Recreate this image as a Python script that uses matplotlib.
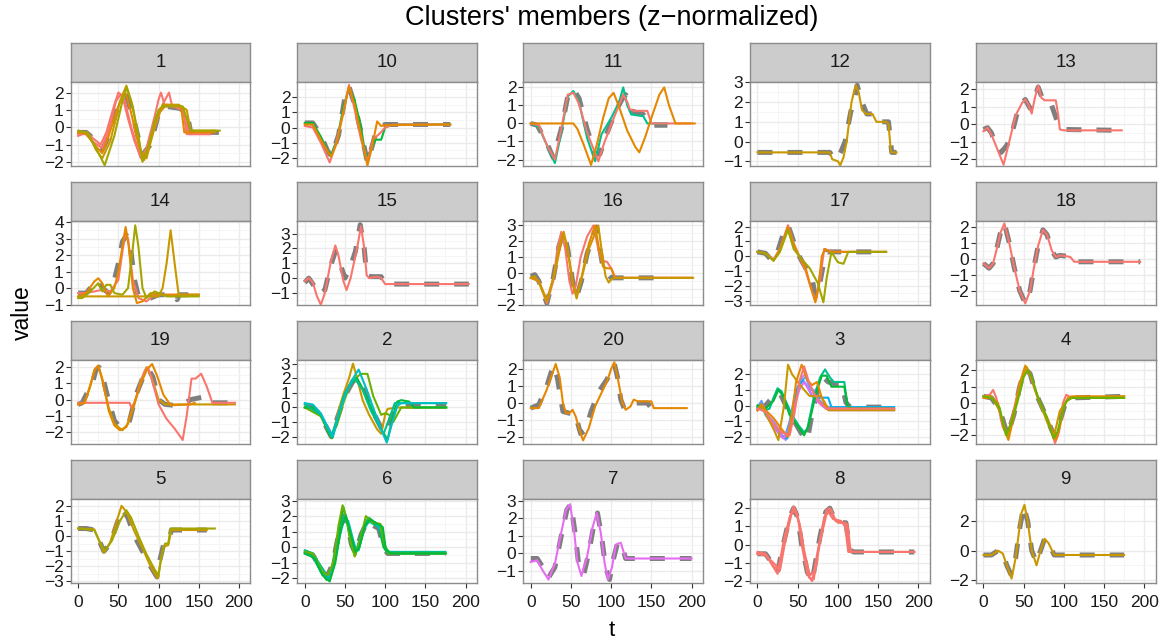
import matplotlib
matplotlib.use("Agg")
import matplotlib.pyplot as plt
from matplotlib.ticker import MultipleLocator

plt.rcParams["font.family"] = ["Liberation Sans", "DejaVu Sans"]

# facet order as ggplot sorts the cluster ids (as strings)
panel_names = ["1", "10", "11", "12", "13", "14", "15", "16", "17", "18",
               "19", "2", "20", "3", "4", "5", "6", "7", "8", "9"]

# --- cluster 1 ---
p1_center = [(0, -0.3), (10, -0.3), (20, -0.7), (30, -1.3), (40, -0.3), (50, 1.3), (60, 1.8), (70, 0.3),
             (80, -1.6), (90, -1.0), (100, 0.8), (110, 1.2), (125, 1.1), (135, 0.9), (140, -0.3), (175, -0.3)]
p1_members = [
    [(0, -0.5), (10, -0.3), (20, -0.7), (28, -1.0), (35, -0.3), (45, 1.3), (50, 2.0), (55, 1.8), (62, 0.5),
     (70, -0.8), (78, -1.8), (85, -1.2), (95, 0.6), (100, 1.6), (103, 2.0), (108, 1.2), (118, 1.2), (130, 1.1),
     (135, -0.4), (164, -0.4)],
    [(0, -0.4), (10, -0.4), (20, -0.9), (30, -1.2), (38, -0.2), (47, 1.5), (53, 1.9), (58, 1.5), (66, 0.0),
     (74, -1.2), (80, -1.9), (88, -1.0), (98, 0.4), (106, 1.4), (113, 2.0), (117, 1.2), (130, 1.0), (138, -0.4),
     (164, -0.4)],
    [(0, -0.3), (10, -0.4), (20, -1.0), (30, -1.5), (38, -0.5), (48, 1.0), (58, 2.1), (65, 1.0), (75, -1.0),
     (82, -1.9), (90, -0.8), (100, 0.8), (110, 1.3), (128, 1.2), (132, -0.3), (170, -0.3)],
    [(0, -0.3), (12, -0.3), (22, -1.3), (30, -1.8), (40, -0.8), (52, 1.5), (60, 2.4), (68, 1.2), (78, -1.4),
     (85, -1.8), (95, 0.0), (105, 1.3), (125, 1.3), (135, 1.0), (140, -0.2), (170, -0.2)],
    [(0, -0.2), (10, -0.3), (20, -1.0), (33, -2.2), (45, -0.5), (55, 1.5), (60, 2.3), (66, 1.5), (75, -0.5),
     (80, -2.0), (88, -1.0), (95, 0.3), (100, 1.0), (105, 1.2), (130, 1.2), (140, -0.2), (176, -0.2)],
]

# --- cluster 10 ---
p10_center = [(0, 0.3), (10, 0.3), (20, -0.5), (28, -1.5), (33, -1.9), (42, -0.5), (50, 2.0), (55, 2.7),
              (62, 1.5), (70, -0.3), (78, -2.3), (85, -1.0), (90, 0.0), (100, 0.2), (181, 0.2)]
p10_members = [
    [(0, 0.3), (10, 0.3), (20, -0.6), (32, -1.9), (40, -0.8), (48, 1.3), (55, 2.6), (62, 1.8), (70, 0.0),
     (76, -2.0), (82, -1.5), (88, -0.8), (95, -0.8), (100, 0.0), (110, 0.2), (181, 0.2)],
    [(0, 0.1), (10, 0.0), (20, -1.0), (31, -2.3), (38, -1.2), (48, 1.0), (55, 2.8), (62, 1.2), (70, -0.8),
     (78, -2.2), (85, -0.8), (95, -0.3), (100, 0.0), (110, 0.2), (180, 0.2)],
    [(0, 0.2), (10, 0.2), (20, -0.8), (30, -1.7), (33, -1.9), (40, -1.0), (48, 1.0), (55, 2.7), (62, 1.5),
     (70, -0.5), (78, -2.5), (84, -1.2), (90, 0.4), (95, 0.1), (100, 0.15), (181, 0.2)],
]

# --- cluster 11 ---
p11_center = [(0, 0.0), (8, -0.1), (18, -0.9), (28, -1.9), (38, -0.3), (46, 1.5), (53, 1.9), (60, 1.4),
              (70, -0.3), (80, -1.7), (86, -1.7), (95, -0.5), (105, 0.6), (113, 1.3), (118, 1.6), (125, 0.7),
              (140, 0.5), (150, -0.1), (170, -0.1)]
p11_members = [
    [(0, 0.0), (10, -0.2), (20, -1.2), (30, -2.2), (38, -0.5), (46, 1.5), (53, 1.8), (60, 1.2), (70, -0.8),
     (80, -2.1), (88, -0.6), (100, 0.3), (110, 1.2), (115, 2.0), (120, 1.0), (125, 0.5), (140, 0.4),
     (145, 0.0), (170, 0.0)],
    [(0, 0.0), (10, -0.1), (20, -1.2), (30, -2.0), (38, -0.3), (46, 1.6), (53, 1.7), (60, 1.1), (70, -0.5),
     (84, -2.1), (92, -1.0), (105, 0.5), (115, 1.6), (120, 1.2), (123, 0.8), (128, 0.7), (145, 0.7),
     (150, 0.0), (200, 0.0)],
    [(0, 0.0), (53, 0.0), (58, -0.3), (66, -1.2), (75, -2.3), (82, -1.2), (90, 0.3), (97, 1.4), (103, 1.7),
     (110, 0.9), (120, -0.4), (130, -1.3), (135, -1.6), (142, -0.8), (150, 0.3), (160, 1.6), (166, 2.0),
     (172, 1.0), (180, 0.0), (204, 0.0)],
]

# --- cluster 12 ---
p12_center = [(0, -0.55), (90, -0.55), (95, -0.85), (99, -0.9), (104, -0.5), (109, 0.0), (116, 1.5),
              (120, 2.0), (124, 2.85), (130, 2.0), (136, 1.4), (144, 1.4), (150, 1.0), (163, 1.0),
              (167, -0.55), (173, -0.55)]
p12_members = [
    [(0, -0.55), (90, -0.55), (93, -0.9), (100, -1.0), (103, -1.2), (107, -0.8), (111, 0.0), (117, 2.0),
     (122, 2.85), (126, 2.5), (130, 1.6), (135, 1.4), (143, 1.4), (148, 1.0), (160, 1.0), (163, 0.9),
     (166, -0.55), (173, -0.55)],
]

# --- cluster 13 ---
p13_center = [(0, -0.3), (5, -0.2), (10, -0.5), (15, -1.2), (22, -1.6), (29, -1.2), (35, -0.6), (44, 1.0),
              (52, 1.4), (58, 0.9), (62, 1.2), (68, 2.1), (73, 1.5), (83, 1.3), (93, 0.0), (100, -0.3),
              (172, -0.35)]
p13_members = [
    [(0, -0.4), (5, -0.2), (10, -0.6), (18, -1.5), (25, -2.3), (32, -1.0), (40, 0.5), (48, 1.2), (52, 1.4),
     (56, 1.1), (60, 0.6), (64, 1.5), (68, 2.2), (72, 1.5), (76, 1.35), (90, 1.35), (93, 0.5), (95, -0.3),
     (100, -0.35), (172, -0.35)],
]

# --- cluster 14 ---
p14_center = [(0, -0.3), (10, -0.3), (20, 0.3), (25, 0.5), (30, 0.0), (38, -0.3), (45, 0.5), (50, 1.5),
              (55, 2.8), (60, 3.2), (65, 2.5), (70, 0.5), (75, -0.5), (80, -0.7), (90, -0.6), (100, -0.4),
              (120, -0.4), (123, -0.7), (126, -0.4), (150, -0.4)]
p14_members = [
    [(0, -0.3), (10, -0.3), (20, -0.2), (30, -0.1), (40, -0.2), (50, 0.5), (58, 3.2), (62, 3.0), (68, 0.5),
     (75, -0.6), (85, -0.8), (95, -0.4), (150, -0.4)],
    [(0, -0.5), (10, -0.3), (20, 0.4), (25, 0.6), (30, 0.3), (37, -0.5), (45, 0.0), (50, 1.0), (55, 2.5),
     (59, 3.7), (63, 2.5), (68, 0.0), (73, -0.9), (80, -0.8), (90, -0.3), (100, -0.4), (150, -0.4)],
    [(0, -0.5), (100, -0.5), (105, 0.0), (110, 1.5), (115, 3.5), (120, 1.5), (125, -0.4), (150, -0.4)],
    [(0, -0.6), (5, -0.6), (15, -0.2), (25, 0.3), (30, -0.2), (35, 0.2), (40, 0.2), (45, -0.3), (55, -0.4),
     (62, 0.0), (67, 2.0), (71, 3.8), (75, 2.5), (80, 0.0), (85, -0.6), (95, -0.2), (100, -0.3),
     (110, -0.5), (150, -0.5)],
]

# --- cluster 15 ---
p15_center = [(0, -0.3), (5, 0.0), (10, -0.4), (18, -1.1), (25, -0.8), (32, 0.8), (38, 1.8), (45, 0.8),
              (50, 0.0), (57, 0.8), (63, 1.8), (69, 3.6), (74, 2.0), (77, 0.2), (82, 0.1), (95, 0.1),
              (100, -0.4), (204, -0.4)]
p15_members = [
    [(0, -0.2), (5, 0.0), (10, -0.3), (15, -1.2), (20, -1.8), (25, -1.0), (32, 1.0), (38, 2.2), (42, 1.5),
     (48, -0.2), (52, -0.8), (57, 0.0), (65, 2.0), (70, 3.5), (74, 2.0), (77, 0.2), (80, 0.0), (90, 0.1),
     (95, 0.0), (100, -0.4), (204, -0.4)],
]

# --- cluster 16 ---
p16_center = [(0, -0.2), (5, -0.1), (10, -0.5), (20, -1.9), (28, -0.3), (35, 1.7), (41, 2.6), (46, 1.5),
              (52, -0.5), (57, -1.5), (63, -0.5), (70, 1.2), (77, 2.3), (82, 2.9), (86, 1.5), (90, 0.3),
              (95, 0.0), (100, -0.3), (170, -0.3)]
p16_members = [
    [(0, -0.3), (10, -0.5), (20, -1.9), (28, -0.5), (33, 1.5), (38, 2.6), (43, 1.5), (48, -0.5), (52, -1.3),
     (56, -0.8), (62, 1.0), (70, 2.3), (78, 3.0), (84, 1.5), (88, 0.8), (95, 0.7), (100, 0.3), (105, -0.3),
     (200, -0.3)],
    [(0, -0.3), (10, -0.5), (20, -1.7), (30, 0.0), (40, 2.5), (45, 1.8), (53, -0.8), (57, -1.4), (63, -0.3),
     (72, 1.8), (80, 3.0), (85, 1.5), (90, 0.4), (95, 0.3), (100, 0.3), (105, -0.3), (200, -0.3)],
    [(0, -0.3), (5, -0.2), (10, -0.6), (20, -1.8), (28, -0.3), (36, 1.8), (41, 2.6), (46, 1.4), (52, -0.6),
     (57, -1.6), (63, -0.4), (72, 1.5), (84, 3.0), (88, 1.5), (93, -0.2), (97, -0.6), (100, -0.4),
     (105, -0.3), (202, -0.3)],
]

# --- cluster 17 ---
p17_center = [(0, 0.3), (10, 0.2), (18, -0.3), (25, 0.3), (32, 1.5), (38, 2.1), (45, 1.0), (52, 0.0),
              (60, -0.8), (68, -1.5), (72, -2.7), (77, -2.0), (82, -0.5), (86, 0.3), (95, 0.3), (155, 0.3)]
p17_members = [
    [(0, 0.3), (10, 0.2), (20, -0.2), (28, 0.5), (38, 2.1), (45, 0.9), (52, 0.0), (60, -1.0), (68, -2.4),
     (73, -2.9), (78, -1.5), (83, 0.5), (88, 0.4), (95, 0.3), (160, 0.3)],
    [(0, 0.3), (10, 0.2), (20, -0.3), (28, 0.5), (38, 2.0), (45, 0.8), (52, 0.0), (60, -0.8), (66, -2.0),
     (72, -3.1), (76, -2.0), (80, 0.0), (84, 0.5), (90, 0.3), (160, 0.3)],
    [(0, 0.3), (10, 0.2), (20, -0.3), (28, 0.3), (38, 1.8), (45, 0.5), (55, -0.2), (65, -0.8), (75, -1.8),
     (82, -3.1), (86, -1.5), (92, 0.3), (100, -0.4), (107, -0.5), (113, 0.3), (160, 0.3)],
]

# --- cluster 18 ---
p18_center = [(0, -0.3), (7, -0.6), (12, -0.3), (16, 0.5), (21, 1.6), (26, 2.2), (32, 1.0), (38, -0.5),
              (45, -2.0), (52, -2.8), (58, -2.0), (63, -0.5), (68, 0.8), (74, 1.8), (79, 1.5), (85, 0.5),
              (90, 0.1), (95, 0.2), (103, 0.15), (108, 0.1), (113, -0.2), (195, -0.2)]
p18_members = [
    [(0, -0.3), (7, -0.6), (12, -0.3), (16, 0.5), (21, 1.6), (26, 2.2), (32, 1.0), (38, -0.5), (45, -2.0),
     (52, -2.8), (58, -2.0), (63, -0.5), (68, 0.8), (74, 1.8), (79, 1.5), (85, 0.5), (90, 0.1), (95, 0.2),
     (103, 0.15), (108, 0.1), (113, -0.2), (195, -0.2)],
]

# --- cluster 19 ---
p19_center = [(0, -0.3), (5, -0.2), (10, 0.3), (17, 0.9), (22, 1.8), (26, 2.0), (30, 1.5), (36, 0.3),
              (45, -1.3), (52, -1.7), (58, -1.7), (64, -1.3), (72, 0.3), (80, 1.3), (87, 1.9), (93, 1.4),
              (100, 0.0), (108, -0.3), (118, -0.35), (130, -0.3), (140, 0.0), (150, 0.1), (160, 0.2),
              (165, -0.2), (195, -0.2)]
p19_members = [
    [(0, -0.3), (8, -0.2), (15, 0.8), (20, 1.8), (25, 2.1), (30, 1.2), (38, -0.5), (45, -1.5), (55, -1.9),
     (62, -1.5), (70, -0.3), (78, 1.2), (85, 2.0), (92, 1.3), (100, 0.0), (108, -0.3), (195, -0.3)],
    [(0, -0.2), (64, -0.2), (66, -0.5), (70, -0.2), (76, 0.8), (83, 1.8), (87, 2.0), (93, 1.0), (100, -0.3),
     (110, -1.2), (120, -1.8), (130, -2.5), (135, -1.0), (141, 1.3), (146, 1.3), (153, 1.6), (160, 0.8),
     (167, -0.2), (195, -0.2)],
    [(0, -0.3), (8, -0.2), (15, 0.9), (21, 1.9), (25, 2.1), (30, 1.3), (38, -0.7), (45, -1.6), (52, -1.9),
     (60, -1.7), (68, -0.5), (78, 1.0), (86, 1.9), (92, 2.2), (98, 1.5), (106, 0.3), (115, -0.35),
     (139, -0.3), (145, -0.2)],
]

# --- cluster 2 ---
p2_center = [(0, 0.1), (10, 0.0), (20, -0.6), (33, -2.0), (40, -0.8), (50, 0.8), (60, 1.8), (67, 2.0),
             (75, 1.2), (85, -0.3), (95, -1.4), (101, -1.8), (108, -0.6), (115, 0.1), (125, 0.1), (176, 0.1)]
p2_members = [
    [(0, 0.0), (10, -0.1), (20, -0.6), (28, -1.5), (33, -2.1), (38, -1.2), (43, 0.0), (48, 0.9), (55, 2.0),
     (60, 3.0), (65, 2.0), (72, 0.5), (80, -0.5), (90, -1.5), (95, -1.8), (100, -0.5), (103, -0.1),
     (115, 0.0), (175, 0.0)],
    [(0, 0.0), (20, -0.6), (33, -2.0), (40, -1.2), (48, 0.3), (58, 1.8), (70, 2.3), (78, 2.3), (85, 0.8),
     (95, -0.5), (100, -0.4), (105, -0.5), (110, -1.0), (115, -0.5), (120, 0.0), (176, 0.0)],
    [(0, 0.0), (10, 0.0), (20, -0.5), (30, -1.8), (34, -2.1), (40, -1.0), (47, 0.5), (55, 1.5), (65, 2.0),
     (72, 1.3), (85, -0.3), (95, -1.5), (103, -2.2), (108, -1.0), (115, 0.4), (120, 0.5), (130, 0.4),
     (136, 0.0), (176, 0.0)],
    [(0, 0.2), (20, -0.5), (33, -2.0), (40, -0.8), (50, 1.0), (62, 2.0), (72, 1.2), (82, -0.2), (92, -1.2),
     (98, -1.8), (105, -0.8), (112, 0.3), (120, 0.3), (176, 0.3)],
    [(0, 0.3), (10, 0.2), (20, -0.4), (30, -1.5), (35, -2.0), (42, -0.5), (50, 0.8), (58, 1.8), (67, 2.6),
     (75, 1.5), (85, 0.0), (95, -1.5), (102, -2.4), (108, -1.2), (115, 0.1), (120, 0.3), (175, 0.3)],
]

# --- cluster 20 ---
p20_center = [(0, -0.3), (10, -0.1), (20, 1.0), (28, 2.2), (33, 1.5), (40, -0.5), (48, -0.6), (55, -0.6),
              (62, -1.8), (68, -1.6), (75, -0.5), (85, 0.7), (95, 1.4), (100, 2.0), (104, 2.3), (108, 1.5),
              (112, 0.2), (116, -0.3), (122, -0.3), (128, 0.0), (145, 0.0), (150, -0.3), (165, -0.3)]
p20_members = [
    [(0, -0.3), (10, -0.3), (20, 0.8), (31, 2.3), (36, 1.5), (40, 0.0), (44, -0.6), (48, -0.6), (52, -0.4),
     (56, -0.8), (60, -1.5), (65, -2.2), (72, -1.5), (80, -0.2), (88, 0.6), (95, 1.3), (100, 2.0),
     (104, 2.4), (108, 1.5), (114, 0.0), (118, -0.4), (124, -0.2), (128, 0.2), (133, 0.1), (150, 0.1),
     (153, -0.3), (194, -0.3)],
]

# --- cluster 3 ---
p3_center = [(0, -0.1), (10, 0.0), (20, 0.6), (28, 0.8), (38, -0.3), (48, -1.2), (55, -1.8), (62, -2.2),
             (68, -0.5), (75, 1.0), (82, 1.8), (88, 1.5), (95, 1.4), (105, 1.4), (110, 0.2), (115, -0.1),
             (155, -0.1)]
p3_members = [
    [(0, -0.3), (5, 0.2), (10, -0.5), (20, -1.0), (30, -1.8), (35, -2.2), (40, -1.5), (48, 0.5), (55, 1.8),
     (60, 2.0), (65, 1.0), (70, 1.0), (75, 0.5), (80, 0.0), (85, -0.2), (90, -0.3), (170, -0.3)],
    [(0, -0.1), (5, 0.3), (10, -0.4), (20, -1.2), (28, -1.9), (34, -2.0), (40, -1.0), (47, 0.8), (54, 1.6),
     (60, 1.8), (66, 1.2), (72, 0.6), (80, 0.2), (88, -0.1), (170, -0.2)],
    [(0, -0.2), (5, 0.1), (10, -0.6), (20, -1.3), (30, -2.0), (37, -2.1), (43, -0.8), (50, 1.2), (57, 1.6),
     (62, 1.2), (68, 0.6), (75, 0.5), (88, 0.5), (92, -0.1), (170, -0.1)],
    [(0, -0.3), (6, 0.0), (12, -0.7), (22, -1.5), (32, -2.1), (38, -1.8), (45, -0.2), (52, 1.0), (58, 1.5),
     (64, 1.0), (70, 0.5), (78, 0.1), (86, -0.2), (165, -0.2)],
    [(0, -0.1), (5, 0.0), (10, -0.3), (15, -0.2), (20, 0.5), (25, 1.1), (30, 0.9), (35, 0.3), (42, -0.5),
     (50, -1.2), (58, -1.7), (62, -1.5), (70, 0.5), (78, 1.8), (84, 2.3), (90, 1.8), (95, 1.5), (108, 1.5),
     (112, 0.0), (116, -0.2), (165, -0.2)],
    [(0, 0.0), (10, -0.2), (20, 0.3), (26, 1.0), (32, 0.6), (40, -0.6), (50, -1.3), (58, -1.9), (64, -1.2),
     (72, 0.6), (80, 1.9), (86, 1.9), (92, 1.2), (108, 1.2), (112, 0.0), (116, -0.2), (165, -0.2)],
    [(0, -0.3), (5, 0.0), (10, -0.5), (20, -1.5), (26, -2.2), (33, 0.0), (38, 2.6), (43, 2.0), (50, 1.5),
     (58, 1.0), (65, 0.6), (79, 0.6), (88, -0.3), (170, -0.3)],
    [(0, -0.3), (5, 0.1), (10, -0.3), (20, -0.8), (30, -1.5), (38, -2.0), (43, -0.5), (48, 1.5), (55, 2.6),
     (62, 1.6), (68, 1.3), (74, 1.5), (80, 0.5), (88, -0.2), (170, -0.2)],
    [(0, -0.2), (10, -0.4), (20, -1.2), (30, -1.7), (40, -1.9), (46, -0.5), (52, 1.5), (58, 2.5), (64, 1.5),
     (70, 0.8), (78, 0.2), (86, -0.2), (170, -0.2)],
]

# --- cluster 4 ---
p4_center = [(0, 0.4), (10, 0.3), (20, -0.4), (30, -2.0), (38, -0.7), (45, 1.0), (52, 2.1), (58, 1.8),
             (65, 0.6), (75, -0.5), (85, -1.7), (90, -2.1), (96, -1.0), (102, 0.0), (108, 0.3), (175, 0.4)]
p4_members = [
    [(0, 0.4), (8, 0.5), (12, 0.8), (16, 0.3), (24, -1.5), (30, -2.0), (37, -0.6), (45, 1.2), (52, 2.0),
     (58, 1.7), (66, 0.5), (75, -0.5), (83, -1.5), (89, -2.5), (94, -1.8), (99, 0.0), (103, 0.5),
     (110, 0.3), (175, 0.3)],
    [(0, 0.3), (10, 0.3), (18, 0.0), (25, -1.5), (31, -2.3), (38, -0.8), (45, 1.2), (52, 2.3), (58, 1.8),
     (65, 0.7), (72, -0.2), (80, -1.0), (86, -1.8), (90, -2.3), (95, -1.5), (100, -0.2), (105, 0.3),
     (110, 0.4), (175, 0.4)],
    [(0, 0.4), (10, 0.4), (20, -0.5), (30, -2.1), (38, -0.5), (48, 1.5), (54, 2.2), (60, 1.5), (70, 0.0),
     (80, -1.3), (88, -2.0), (95, -0.5), (102, 0.0), (108, 0.3), (175, 0.4)],
    [(0, 0.4), (10, 0.3), (20, -0.3), (28, -2.0), (35, -1.2), (42, 0.0), (50, 1.6), (55, 2.0), (60, 1.6),
     (68, 0.3), (78, -0.8), (87, -2.2), (92, -1.8), (97, -0.8), (103, 0.1), (110, 0.3), (175, 0.3)],
]

# --- cluster 5 ---
p5_center = [(0, 0.5), (10, 0.5), (20, 0.4), (26, -0.3), (32, -1.0), (40, -0.5), (48, 0.8), (55, 1.8),
             (62, 1.2), (70, 0.0), (80, -1.0), (90, -2.0), (98, -2.7), (102, -1.5), (106, -0.6), (112, -0.5),
             (116, 0.4), (160, 0.4)]
p5_members = [
    [(0, 0.5), (20, 0.45), (26, -0.3), (32, -1.1), (40, -0.4), (48, 1.0), (54, 2.0), (60, 1.6), (70, 0.3),
     (80, -0.8), (90, -2.0), (99, -2.8), (103, -1.5), (106, -0.7), (112, -0.6), (116, 0.4), (160, 0.4)],
    [(0, 0.5), (20, 0.4), (27, -0.4), (33, -1.0), (42, -0.3), (52, 1.0), (60, 1.7), (66, 1.2), (75, 0.0),
     (85, -1.2), (95, -2.2), (100, -2.6), (104, -1.2), (108, -0.5), (112, -0.5), (115, 0.5), (170, 0.5)],
]

# --- cluster 6 ---
p6_center = [(0, -0.3), (10, -0.5), (20, -1.4), (28, -1.9), (35, -1.0), (42, 0.8), (48, 2.0), (53, 1.5),
             (58, 0.2), (63, -0.4), (70, 0.8), (78, 1.7), (85, 1.4), (92, 1.2), (98, 0.0), (103, -0.4),
             (175, -0.4)]
p6_members = [
    [(0, -0.3), (10, -0.6), (20, -1.5), (27, -2.1), (34, -1.2), (42, 1.0), (48, 2.6), (53, 1.5), (58, 0.0),
     (63, -0.5), (70, 0.9), (78, 1.8), (85, 1.5), (92, 1.3), (98, 0.0), (103, -0.4), (175, -0.4)],
    [(0, -0.2), (10, -0.4), (20, -1.2), (30, -2.0), (37, -0.8), (44, 1.0), (50, 2.2), (56, 1.2), (62, -0.2),
     (67, -0.2), (74, 1.2), (80, 1.9), (88, 1.4), (95, 1.4), (100, 0.0), (105, -0.3), (175, -0.3)],
    [(0, -0.4), (10, -0.6), (20, -1.6), (29, -2.1), (36, -1.2), (43, 0.6), (49, 1.8), (54, 1.7), (60, 0.5),
     (64, -0.2), (72, 1.0), (79, 1.6), (88, 1.6), (95, 1.0), (102, -0.3), (110, -0.4), (175, -0.4)],
    [(0, -0.3), (10, -0.4), (22, -1.6), (29, -1.8), (36, -0.9), (42, 1.4), (47, 2.7), (52, 1.8), (57, 0.4),
     (62, -0.6), (69, 0.5), (76, 2.0), (84, 1.6), (94, 1.5), (99, 0.2), (104, -0.4), (175, -0.4)],
    [(0, -0.4), (12, -0.7), (22, -1.8), (31, -2.2), (38, -1.0), (45, 1.2), (51, 2.0), (57, 0.9), (63, -0.3),
     (68, 0.0), (75, 1.4), (82, 1.8), (90, 1.5), (97, 1.3), (101, -0.2), (108, -0.4), (175, -0.4)],
]

# --- cluster 7 ---
p7_center = [(0, -0.3), (8, -0.3), (15, -0.8), (22, -1.4), (30, -0.8), (38, 1.0), (45, 2.5), (50, 2.8),
             (55, 1.2), (60, -0.8), (66, -1.2), (72, 0.0), (78, 1.5), (83, 2.3), (88, 1.0), (93, -0.8),
             (98, -1.5), (103, -0.3), (108, 0.6), (113, 0.5), (118, -0.3), (200, -0.3)]
p7_members = [
    [(0, -0.5), (8, -0.4), (15, -1.0), (22, -1.5), (30, -0.6), (38, 1.2), (44, 2.5), (49, 2.8), (54, 1.2),
     (58, -0.5), (63, -1.3), (70, -0.2), (77, 1.5), (82, 2.3), (87, 1.2), (92, -0.6), (96, -1.5),
     (101, -0.8), (106, 0.5), (112, 0.6), (118, -0.3), (200, -0.3)],
]

# --- cluster 8 ---
p8_center = [(0, -0.5), (10, -0.5), (18, -1.0), (25, -1.5), (32, 0.0), (40, 1.5), (45, 2.0), (50, 1.5),
             (55, 0.0), (62, -1.5), (68, -2.0), (72, -1.0), (78, 0.5), (85, 1.8), (90, 2.0), (95, 1.5),
             (100, 1.2), (110, 1.2), (115, -0.3), (120, -0.4), (195, -0.4)]
p8_members = [
    [(0, -0.5), (10, -0.5), (18, -1.1), (25, -1.6), (32, -0.2), (40, 1.5), (45, 2.1), (50, 1.6), (55, 0.0),
     (62, -1.6), (68, -2.0), (73, -0.8), (80, 0.8), (86, 1.9), (90, 2.0), (95, 1.5), (100, 1.2), (110, 1.2),
     (114, -0.3), (120, -0.4), (195, -0.4)],
    [(0, -0.4), (10, -0.5), (20, -1.2), (28, -1.4), (35, 0.3), (43, 1.8), (48, 1.8), (53, 1.0), (58, -0.3),
     (65, -1.7), (72, -1.4), (78, 0.2), (86, 1.7), (92, 1.9), (97, 1.3), (105, 1.2), (112, 1.1),
     (116, -0.4), (195, -0.4)],
    [(0, -0.5), (10, -0.6), (20, -1.0), (26, -1.3), (34, 0.5), (41, 1.6), (46, 1.9), (52, 1.2), (58, -0.5),
     (64, -1.8), (70, -1.9), (76, -0.2), (83, 1.5), (88, 1.8), (94, 1.4), (104, 1.3), (109, 1.0),
     (113, -0.4), (195, -0.4)],
]

# --- cluster 9 ---
p9_center = [(0, -0.3), (10, -0.3), (18, 0.0), (24, -0.2), (29, -1.0), (34, -1.6), (40, -0.5), (45, 1.5),
             (50, 3.0), (55, 2.0), (60, 0.0), (66, -0.8), (71, 0.0), (76, 0.8), (81, 0.5), (88, -0.3),
             (175, -0.3)]
p9_members = [
    [(0, -0.3), (10, -0.3), (18, 0.0), (24, -0.2), (29, -1.0), (35, -1.9), (40, -0.5), (47, 2.5),
     (51, 3.1), (55, 2.0), (60, 0.0), (66, -1.0), (71, 0.0), (76, 0.8), (81, 0.5), (88, -0.3), (175, -0.3)],
]

centers = [p1_center, p10_center, p11_center, p12_center, p13_center, p14_center, p15_center,
           p16_center, p17_center, p18_center, p19_center, p2_center, p20_center, p3_center,
           p4_center, p5_center, p6_center, p7_center, p8_center, p9_center]
members = [p1_members, p10_members, p11_members, p12_members, p13_members, p14_members, p15_members,
           p16_members, p17_members, p18_members, p19_members, p2_members, p20_members, p3_members,
           p4_members, p5_members, p6_members, p7_members, p8_members, p9_members]

# line colours per panel (ggplot hue palette)
PINK, ORANGE, GOLD, OLIVE = "#F8766D", "#E58700", "#C99800", "#A3A500"
LIME, GREEN, TEAL, CYAN = "#6BB100", "#00BA38", "#00C08B", "#00BFC4"
BLUE, LBLUE, PURPLE, MAGENTA = "#00B0F6", "#619CFF", "#B983FF", "#E76BF3"
member_colors = [
    [PINK, PINK, ORANGE, GOLD, OLIVE],
    [GREEN, PINK, ORANGE],
    [TEAL, PINK, ORANGE],
    [GOLD],
    [PINK],
    [PINK, ORANGE, GOLD, OLIVE],
    [PINK],
    [PINK, ORANGE, GOLD],
    [PINK, ORANGE, OLIVE],
    [PINK],
    [GOLD, PINK, ORANGE],
    [GOLD, LIME, GREEN, TEAL, CYAN],
    [ORANGE],
    [PURPLE, LBLUE, BLUE, MAGENTA, TEAL, GREEN, GOLD, ORANGE, PINK],
    [PINK, ORANGE, GOLD, LIME],
    [GOLD, OLIVE],
    [GREEN, TEAL, CYAN, LIME, GREEN],
    [MAGENTA],
    [PINK, PINK, PINK],
    [GOLD],
]

# y limits and tick step of each panel
ylims = [(-2.24, 2.61), (-2.53, 2.99), (-2.36, 2.3), (-1.24, 3.02), (-2.37, 2.39),
         (-1.02, 4.06), (-1.81, 3.85), (-2.01, 3.28), (-3.28, 2.38), (-2.9, 2.35),
         (-2.75, 2.45), (-2.5, 3.25), (-2.41, 2.53), (-2.45, 2.9), (-2.55, 2.65),
         (-3.1, 2.45), (-2.3, 3.1), (-1.7, 3.1), (-2.1, 2.5), (-2.2, 3.5)]
ysteps = [1] * 19 + [2]

W, H = 1170, 644
fig = plt.figure(figsize=(W / 100, H / 100), dpi=100)

lefts = [70.7, 297.3, 523.3, 750.0, 976.0]
pw, strip_h, ph, row_pitch, top0 = 179.5, 39, 84, 139, 43

for i, name in enumerate(panel_names):
    row, col = divmod(i, 5)
    x0 = lefts[col]
    top = top0 + row * row_pitch

    sax = fig.add_axes([x0 / W, 1 - (top + strip_h) / H, pw / W, strip_h / H])
    sax.set_facecolor("#CCCCCC")
    sax.set_xticks([])
    sax.set_yticks([])
    for s in sax.spines.values():
        s.set_color("#8C8C8C")
        s.set_linewidth(1.0)
    sax.text(0.5, 0.5, name, ha="center", va="center", fontsize=13.5, color="#1A1A1A",
             transform=sax.transAxes)

    ax = fig.add_axes([x0 / W, 1 - (top + strip_h + ph) / H, pw / W, ph / H])
    ax.set_xlim(-9.3, 214)
    ax.set_ylim(*ylims[i])
    ax.xaxis.set_major_locator(MultipleLocator(50))
    ax.xaxis.set_minor_locator(MultipleLocator(25))
    ax.yaxis.set_major_locator(MultipleLocator(ysteps[i]))
    ax.yaxis.set_minor_locator(MultipleLocator(ysteps[i] / 2))
    ax.grid(True, which="major", color="#EBEBEB", linewidth=1.0)
    ax.grid(True, which="minor", color="#F4F4F4", linewidth=0.6)
    ax.set_axisbelow(True)
    for s in ax.spines.values():
        s.set_color("#8C8C8C")
        s.set_linewidth(1.0)
    ax.tick_params(axis="both", which="major", length=3.5, width=0.8, color="#333333",
                   labelsize=12.5, labelcolor="#1A1A1A", pad=1.5)
    ax.tick_params(axis="x", which="major", pad=5)
    ax.tick_params(axis="both", which="minor", length=0)
    if row < 3:
        ax.tick_params(axis="x", which="major", length=0, labelbottom=False)

    ct, cv = zip(*centers[i])
    ax.plot(ct, cv, color="#7F7F7F", linewidth=3.6, dashes=(3, 3), solid_capstyle="butt", zorder=2)
    for series, colr in zip(members[i], member_colors[i]):
        st, sv = zip(*series)
        ax.plot(st, sv, color=colr, linewidth=1.5, zorder=3)

fig.text(612 / W, 1 - 18 / H, "Clusters' members (z\u2212normalized)", ha="center", va="center", fontsize=19.5)
fig.text(612 / W, 1 - 630 / H, "t", ha="center", va="center", fontsize=16)
fig.text(22 / W, 1 - 313 / H, "value", ha="center", va="center", rotation=90, fontsize=16.5)

fig.savefig("out.png", dpi=100)
